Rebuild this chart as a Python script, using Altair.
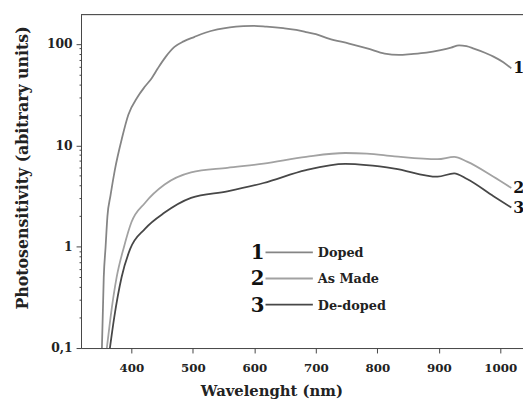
import altair as alt
import pandas as pd

# ---- data ----
doped_wl = [352, 355, 358, 361, 366, 373, 385, 395, 410, 422, 433, 443, 456, 470, 485, 502, 520, 540, 560, 582, 598, 620, 647, 668, 684, 700, 721, 754, 785, 812, 835, 855, 880, 903, 920, 933, 945, 957, 975, 989, 1005, 1018]
doped_val = [0.1, 0.5, 1.0, 2.0, 3.2, 5.7, 12, 20, 30, 38, 46, 57.5, 75, 93.5, 106, 117, 129, 139, 146, 150, 151, 148, 143, 138, 131, 125, 113, 101, 90, 80.5, 78, 79.4, 82, 87, 92, 97, 95, 90, 82, 75, 66, 57.5]

asmade_wl = [360, 366, 376, 388, 400, 422, 454, 497, 556, 615, 684, 748, 783, 828, 898, 925, 946, 989, 1018]
asmade_val = [0.1, 0.2, 0.5, 1.0, 1.74, 2.7, 4.1, 5.4, 6.0, 6.6, 7.7, 8.4, 8.3, 7.8, 7.3, 7.7, 6.9, 4.9, 3.8]

dedoped_wl = [365, 372, 384, 398, 422, 454, 497, 556, 615, 684, 748, 828, 898, 925, 946, 989, 1018]
dedoped_val = [0.1, 0.2, 0.5, 0.95, 1.5, 2.17, 3.03, 3.52, 4.25, 5.7, 6.55, 5.9, 4.9, 5.3, 4.65, 3.15, 2.43]

series_names = ["Doped", "As Made", "De-doped"]
series_nums = ["1", "2", "3"]
series_colors = ["#858585", "#a2a2a2", "#474747"]

x_major = [400, 500, 600, 700, 800, 900, 1000]
x_minor = [450, 550, 650, 750, 850, 950]
y_major = [0.1, 1, 10, 100]
y_minor = [m * d for d in [0.1, 1, 10] for m in range(2, 10)]

FONT = "DejaVu Serif"
AXC = "#444444"

rows = []
for name, num, wl, val in zip(series_names, series_nums,
                              [doped_wl, asmade_wl, dedoped_wl],
                              [doped_val, asmade_val, dedoped_val]):
    for w, v in zip(wl, val):
        rows.append({"series": name, "num": num, "wl": w, "val": v})
df = pd.DataFrame(rows)
ends = df.groupby("series", sort=False).tail(1)

x_scale = alt.Scale(domain=[318, 1037], nice=False, zero=False)
y_scale = alt.Scale(type="log", domain=[0.1, 195], nice=False)
color_scale = alt.Scale(domain=series_names, range=series_colors)

x_axis = alt.Axis(
    values=sorted(x_major + x_minor),
    labelExpr="datum.value % 100 == 0 ? format(datum.value, 'd') : ''",
    tickSize={"condition": {"test": "datum.value % 100 == 0", "value": 5}, "value": 3},
    grid=False, domainColor=AXC, tickColor=AXC,
    labelFont=FONT, labelFontWeight="bold", labelFontSize=12, labelColor="#222",
    labelPadding=10,
    title="Wavelenght (nm)", titleFont=FONT, titleFontWeight="bold", titleFontSize=15,
    titleColor="#222", titleX=193, titleY=43, titleBaseline="middle", titleAnchor="middle",
    titleAlign="center",
)
y_axis = alt.Axis(
    values=y_major + y_minor,
    labelExpr="datum.value == 0.1 ? '0,1' : (datum.value == 1 || datum.value == 10 || datum.value == 100) ? format(datum.value, 'd') : ''",
    tickSize={"condition": {"test": "datum.value == 0.1 || datum.value == 1 || datum.value == 10 || datum.value == 100", "value": 5}, "value": 2},
    grid=False, domainColor=AXC, tickColor=AXC,
    labelFont=FONT, labelFontWeight="bold", labelFontSize=12.5, labelColor="#222",
    labelPadding=4,
    title="Photosensitivity (abitrary units)", titleFont=FONT, titleFontWeight="bold",
    titleFontSize=16, titleColor="#222", titleX=-59, titleY=155, titleAngle=270,
    titleBaseline="middle", titleAlign="center",
)

lines = alt.Chart(df).mark_line(strokeWidth=1.8, clip=True, interpolate="monotone").encode(
    x=alt.X("wl:Q", scale=x_scale, axis=x_axis),
    y=alt.Y("val:Q", scale=y_scale, axis=y_axis),
    color=alt.Color("series:N", scale=color_scale, legend=None),
    order="wl:Q",
)

end_labels = alt.Chart(ends).mark_text(
    align="left", baseline="middle", dx=2, font=FONT, fontWeight="bold",
    fontSize=16, color="#111"
).encode(
    x=alt.X("wl:Q", scale=x_scale),
    y=alt.Y("val:Q", scale=y_scale),
    text="num:N",
)

top_line = alt.Chart(pd.DataFrame({"a": [0]})).mark_rule(color=AXC, strokeWidth=1).encode(
    x=alt.value(0), x2=alt.value(448), y=alt.value(0)
)

legend_layers = []
legend_top = 241
legend_gap = 26.5
for i, (num, name, col) in enumerate(zip(series_nums, series_names, series_colors)):
    ypx = legend_top + i * legend_gap
    d = pd.DataFrame({"num": [num], "name": [name]})
    legend_layers.append(
        alt.Chart(d).mark_text(align="center", baseline="middle", font=FONT,
                               fontWeight="bold", fontSize=20, color="#111").encode(
            x=alt.value(179), y=alt.value(ypx + 1), text="num:N")
    )
    legend_layers.append(
        alt.Chart(d).mark_rule(color=col, strokeWidth=1.8).encode(
            x=alt.value(187), x2=alt.value(235), y=alt.value(ypx))
    )
    legend_layers.append(
        alt.Chart(d).mark_text(align="left", baseline="middle", font=FONT,
                               fontWeight="bold", fontSize=13, color="#222").encode(
            x=alt.value(240), y=alt.value(ypx + 1), text="name:N")
    )

chart = alt.layer(lines, end_labels, top_line, *legend_layers).properties(
    width=448, height=338,
    autosize=alt.AutoSizeParams(type="none"),
    padding={"left": 74, "top": 4, "right": 0, "bottom": 50},
).configure_view(stroke=None).configure(background="white")

chart.save("out.html", embed_options={"renderer": "svg", "actions": False})
